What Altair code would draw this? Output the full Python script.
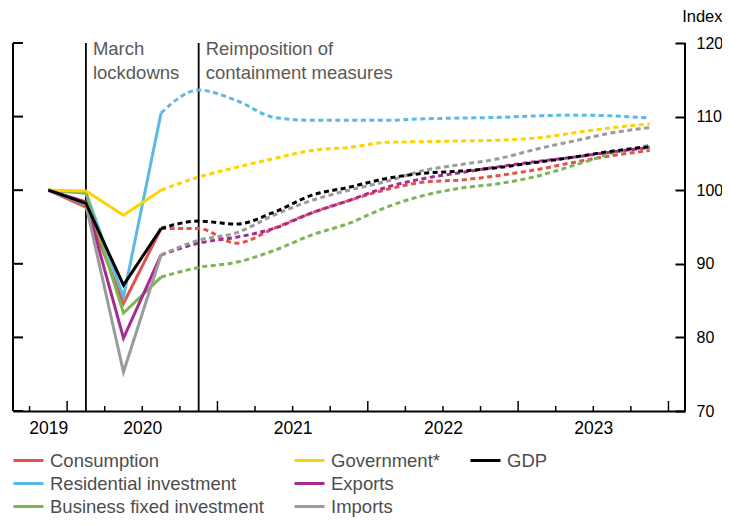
import altair as alt
import pandas as pd

# ---------------- data ----------------
quarters = ["2019Q4", "2020Q1", "2020Q2", "2020Q3", "2020Q4",
            "2021Q1", "2021Q2", "2021Q3", "2021Q4",
            "2022Q1", "2022Q2", "2022Q3", "2022Q4",
            "2023Q1", "2023Q2", "2023Q3", "2023Q4"]

consumption = [100, 97.7, 84.6, 94.8, 94.8, 92.8, 94.8, 96.9, 98.6, 100.1, 101.1, 101.4, 102.0, 102.8, 103.8, 104.7, 105.4]
residential = [100, 99.7, 85.5, 110.5, 113.6, 112.2, 109.9, 109.5, 109.5, 109.5, 109.7, 109.8, 109.9, 110.1, 110.2, 110.1, 109.8]
business    = [100, 99.6, 83.3, 88.2, 89.5, 90.2, 91.8, 93.9, 95.5, 97.7, 99.3, 100.3, 100.9, 101.9, 103.4, 105.0, 106.1]
government  = [100, 99.9, 96.6, 100.0, 101.8, 103.1, 104.3, 105.4, 105.8, 106.5, 106.6, 106.7, 106.8, 107.1, 107.8, 108.5, 109.0]
exports     = [100, 98.4, 79.9, 91.2, 92.8, 93.6, 94.8, 96.9, 98.6, 100.4, 101.6, 102.4, 103.2, 103.9, 104.5, 105.2, 105.8]
imports     = [100, 98.0, 75.3, 91.2, 93.2, 94.2, 96.6, 98.6, 100.0, 101.2, 102.7, 103.5, 104.3, 105.6, 106.7, 107.8, 108.5]
gdp         = [100, 98.2, 87.1, 94.8, 95.8, 95.4, 97.0, 99.3, 100.4, 101.6, 102.3, 102.6, 103.1, 103.8, 104.5, 105.3, 105.9]

series = {
    "Consumption": consumption,
    "Residential investment": residential,
    "Business fixed investment": business,
    "Government*": government,
    "Exports": exports,
    "Imports": imports,
    "GDP": gdp,
}
colors = {
    "Consumption": "#E2514A",
    "Residential investment": "#5BB9E5",
    "Business fixed investment": "#7DB556",
    "Government*": "#FFD200",
    "Exports": "#A62A90",
    "Imports": "#9B9B9B",
    "GDP": "#000000",
}
names = list(series.keys())
legend_names = names + [" "]      # blank slot keeps the 3x3 legend grid in column order

forecast_start = "2020Q3"          # dashed from here on
events = ["2020Q1", "2020Q4"]
event_labels = ["March\nlockdowns", "Reimposition of\ncontainment measures"]

year_labels = ["2019", "2020", "2021", "2022", "2023"]
y_ticks = [70, 80, 90, 100, 110, 120]

# ---------------- helpers ----------------
def qpos(q):
    y, n = int(q[:4]), int(q[5])
    return y + (n - 1) / 4 + 0.125

x_min, x_max = 2019.64, 2024.11
y_min, y_max = 70, 120

rows = []
fs = quarters.index(forecast_start)
for name, vals in series.items():
    for i, (q, v) in enumerate(zip(quarters, vals)):
        rows.append({"series": name, "x": qpos(q), "y": v, "i": i})
df = pd.DataFrame(rows)
solid_df = df[df["i"] <= fs]
dash_df = df[df["i"] >= fs]

ev_df = pd.DataFrame({"x": [qpos(e) for e in events], "label": event_labels, "y": y_max})
frame_df = pd.DataFrame({"x": [x_min, x_max]})
ytick_df = pd.DataFrame({"y": y_ticks, "x": x_min})

last_year = int(quarters[-1][:4])
bounds = []
b = qpos(quarters[0]) - 0.125
while b <= last_year + 1 + 1e-9:
    bounds.append(round(b, 4))
    b += 0.25
qtick_df = pd.DataFrame({"x": [v for v in bounds if abs(v - round(v)) > 1e-6], "y": y_min})
ytick_long_df = pd.DataFrame({"x": [v for v in bounds if abs(v - round(v)) < 1e-6], "y": y_min})

label_pos = [qpos(quarters[0])] + [int(y) + 0.5 for y in year_labels[1:]]

FONT = "Liberation Sans"

xs = alt.Scale(domain=[x_min, x_max], nice=False, zero=False)
ys = alt.Scale(domain=[y_min, y_max], nice=False, zero=False)

x_axis = alt.Axis(values=label_pos, labelExpr="floor(datum.value)", ticks=False,
                  domain=True, domainColor="black", domainWidth=2, grid=False,
                  title=None, labelFontSize=17.5, labelPadding=8, labelColor="black",
                  labelFont=FONT, labelFlush=False)
y_axis = alt.Axis(orient="right", offset=-10, values=y_ticks, domain=False, ticks=True,
                  tickSize=10, tickWidth=2, tickColor="black", grid=False,
                  labelPadding=11, labelFontSize=16, labelColor="black", labelFont=FONT,
                  labelFlush=False, labelAlign="left",
                  title="Index", titleAngle=0, titleAlign="right", titleBaseline="middle",
                  titleX=47, titleY=-27, titleFontSize=16.5, titleFontWeight="normal",
                  titleFont=FONT, titleColor="black")

X = lambda: alt.X("x:Q", scale=xs, axis=x_axis)
Y = lambda: alt.Y("y:Q", scale=ys, axis=y_axis)

color_scale = alt.Scale(domain=legend_names,
                        range=[colors.get(n, "transparent") for n in legend_names])
legend = alt.Legend(orient="none", direction="vertical", legendX=4, legendY=406, columns=3,
                    columnPadding=24, rowPadding=2, symbolType="M-1.5,0H1.5",
                    symbolSize=400, symbolStrokeWidth=3, symbolDash=[1, 0],
                    labelFontSize=18.5, labelFont=FONT, labelColor="#4d4d4d",
                    labelLimit=400, labelOffset=10, title=None, symbolOpacity=1,
                    symbolFillColor="transparent")
C = lambda: alt.Color("series:N", scale=color_scale, legend=legend)

frame = alt.Chart(frame_df).mark_rule(color="black", strokeWidth=2).encode(x=X())
left_ticks = alt.Chart(ytick_df).mark_rule(color="black", strokeWidth=2, x2Offset=10).encode(
    x=X(), x2="x", y=Y())
q_ticks = alt.Chart(qtick_df).mark_rule(color="black", strokeWidth=1.5, y2Offset=-5).encode(
    x=X(), y=Y(), y2="y")
yr_ticks = alt.Chart(ytick_long_df).mark_rule(color="black", strokeWidth=1.5, y2Offset=-10).encode(
    x=X(), y=Y(), y2="y")
ev_lines = alt.Chart(ev_df).mark_rule(color="black", strokeWidth=1.8).encode(x=X())
ev_text = alt.Chart(ev_df).mark_text(align="left", baseline="top", dx=7, dy=-3,
                                      fontSize=18.5, font=FONT, color="#595959",
                                      lineBreak="\n", lineHeight=24).encode(
    x=X(), y=Y(), text="label:N")

solid = alt.Chart(solid_df).mark_line(strokeWidth=3).encode(
    x=X(), y=Y(), color=C(), detail="series:N", order="x:Q")
dashed = alt.Chart(dash_df).mark_line(strokeWidth=3, strokeDash=[5, 3.5],
                                      interpolate="monotone").encode(
    x=X(), y=Y(), color=C(), detail="series:N", order="x:Q")

chart = alt.layer(frame, left_ticks, q_ticks, yr_ticks, ev_lines, ev_text, dashed, solid).properties(
    width=672, height=368,
    padding={"left": 5, "top": 35, "right": 37, "bottom": 106},
    autosize=alt.AutoSizeParams(type="none"),
).configure_view(stroke=None)

chart.save("out.html", embed_options={"renderer": "svg", "actions": False})
